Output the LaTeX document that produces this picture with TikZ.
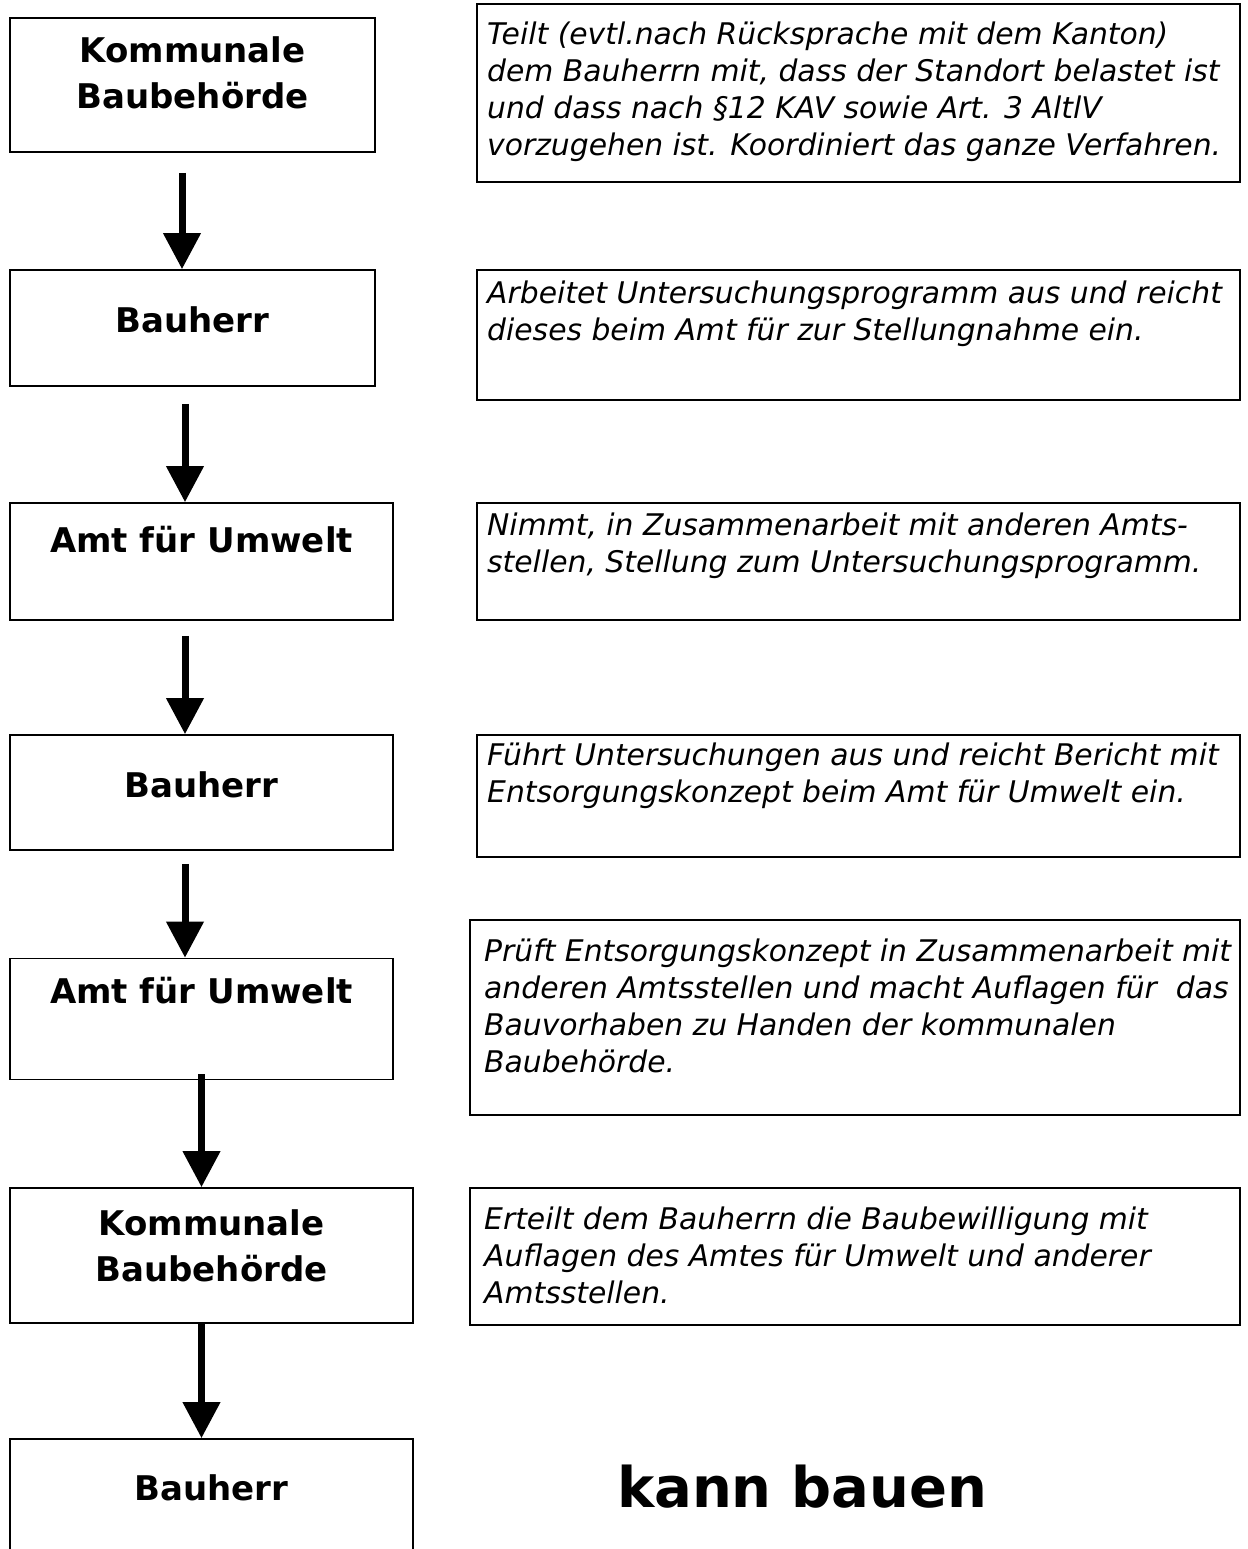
\documentclass[tikz,border=0pt]{standalone}
\usepackage{fontspec}
\setmainfont{DejaVu Sans}
\usetikzlibrary{arrows.meta}

\newcommand{\whofont}{\fontsize{34}{46}\selectfont\bfseries}
\newcommand{\whatfont}{\fontsize{29.8}{37}\selectfont\itshape}
\newcommand{\donefont}{\fontsize{56}{60}\selectfont\bfseries}

\begin{document}
\begin{tikzpicture}[
    x=1pt, y=-1pt,
    box/.style={
        draw,
        rectangle,
        line width=1.6pt,
        inner sep=0pt
    },
    who/.style={font=\whofont, align=center, anchor=north, inner sep=0pt},
    what/.style={font=\whatfont, align=left, anchor=north west, inner sep=0pt},
    flow/.style={line width=7pt, -{Triangle[width=36pt, length=36pt]}}
]

\useasboundingbox (0,0) rectangle (1247,1549);
\clip (0,0) rectangle (1247,1549);

% Who acts (left column)
\node[box, minimum width=365pt, minimum height=134pt] (b1) at (192.5,85) {};
\node[box, minimum width=365pt, minimum height=116pt] (b2) at (192.5,328) {};
\node[box, minimum width=383pt, minimum height=117pt] (b3) at (201.5,561.5) {};
\node[box, minimum width=383pt, minimum height=115pt] (b4) at (201.5,792.5) {};
\node[box, minimum width=383pt, minimum height=121pt] (b5) at (201.5,1019) {};
\node[box, minimum width=403pt, minimum height=135pt] (b6) at (211.5,1255.5) {};
\node[box, minimum width=403pt, minimum height=140pt] (b7) at (211.5,1509) {};

\node[who] (l1) at (192.5,29.8) {\strut Kommunale\\Baubehörde};
\node[who] (l2) at (192.5,300) {\strut Bauherr};
\node[who] (l3) at (201.5,520) {\strut Amt für Umwelt};
\node[who] (l4) at (201.5,765) {\strut Bauherr};
\node[who] (l5) at (201.5,971) {\strut Amt für Umwelt};
\node[who] (l6) at (211.5,1203) {\strut Kommunale\\Baubehörde};
\node[who] (l7) at (211.5,1468) {\strut Bauherr};

% What they do (right column)
\node[box, minimum width=763pt, minimum height=178pt] (r1) at (858.5,93) {};
\node[box, minimum width=763pt, minimum height=130pt] (r2) at (858.5,335) {};
\node[box, minimum width=763pt, minimum height=117pt] (r3) at (858.5,561.5) {};
\node[box, minimum width=763pt, minimum height=122pt] (r4) at (858.5,796) {};
\node[box, minimum width=770pt, minimum height=195pt] (r5) at (855,1017.5) {};
\node[box, minimum width=770pt, minimum height=137pt] (r6) at (855,1256.5) {};

\node[what] (t1) at (487,18) {\strut Teilt (evtl.nach Rücksprache mit dem Kanton)\\
  dem Bauherrn mit, dass der Standort belastet ist\\
  und dass nach §12 KAV sowie Art. 3 AltlV\\
  vorzugehen ist. Koordiniert das ganze Verfahren.};
\node[what] (t2) at (487,277) {\strut Arbeitet Untersuchungsprogramm aus und reicht\\
  dieses beim Amt für zur Stellungnahme ein.};
\node[what] (t3) at (487,509) {\strut Nimmt, in Zusammenarbeit mit anderen Amts-\\
  stellen, Stellung zum Untersuchungsprogramm.};
\node[what] (t4) at (487,739) {\strut Führt Untersuchungen aus und reicht Bericht mit\\
  Entsorgungskonzept beim Amt für Umwelt ein.};
\node[what] (t5) at (484,935) {\strut Prüft Entsorgungskonzept in Zusammenarbeit mit\\
  anderen Amtsstellen und macht Auflagen für\ \ das\\
  Bauvorhaben zu Handen der kommunalen\\
  Baubehörde.};
\node[what] (t6) at (484,1203) {\strut Erteilt dem Bauherrn die Baubewilligung mit\\
  Auflagen des Amtes für Umwelt und anderer\\
  Amtsstellen.};

\node[font=\donefont, anchor=base, inner sep=0pt] (done) at (802,1507) {kann bauen};

% Flow
\draw[flow] ([xshift=-10.5pt, yshift=-20pt]b1.south) -- ([xshift=-10.5pt]b2.north);
\draw[flow] ([xshift=-7.5pt, yshift=-17pt]b2.south) -- ([xshift=-16.5pt]b3.north);
\draw[flow] ([xshift=-16.5pt, yshift=-15pt]b3.south) -- ([xshift=-16.5pt]b4.north);
\draw[flow] ([xshift=-16.5pt, yshift=-13pt]b4.south) -- ([xshift=-16.5pt]b5.north);
\draw[flow] ([yshift=6pt]b5.south) -- ([xshift=-10pt]b6.north);
\draw[flow] ([xshift=-10pt]b6.south) -- ([xshift=-10pt]b7.north);

\end{tikzpicture}
\end{document}
